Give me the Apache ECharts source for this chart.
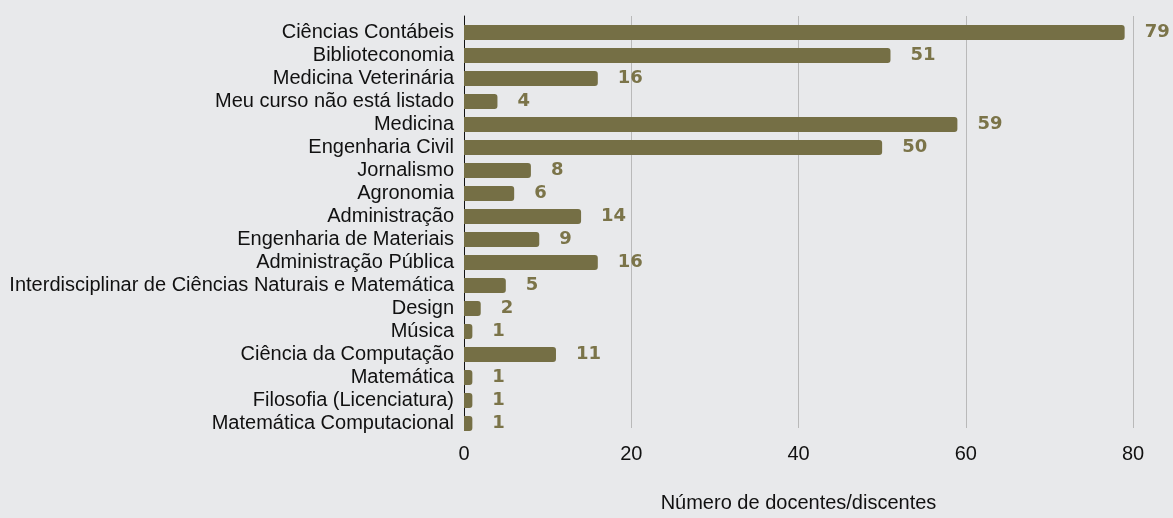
<!DOCTYPE html>
<html>
<head>
<meta charset="utf-8">
<script src="https://cdn.jsdelivr.net/npm/echarts@6/dist/echarts.min.js"></script>
<style>
  html, body { margin: 0; padding: 0; background: #e8e9eb; }
  #chart { width: 1173px; height: 518px; }
</style>
</head>
<body>
<div id="chart"></div>
<script>
var categories = [
  'Ciências Contábeis',
  'Biblioteconomia',
  'Medicina Veterinária',
  'Meu curso não está listado',
  'Medicina',
  'Engenharia Civil',
  'Jornalismo',
  'Agronomia',
  'Administração',
  'Engenharia de Materiais',
  'Administração Pública',
  'Interdisciplinar de Ciências Naturais e Matemática',
  'Design',
  'Música',
  'Ciência da Computação',
  'Matemática',
  'Filosofia (Licenciatura)',
  'Matemática Computacional'
]
var values = [79, 51, 16, 4, 59, 50, 8, 6, 14, 9, 16, 5, 2, 1, 11, 1, 1, 1]
var xTicks = [0, 20, 40, 60, 80]
var axisTitle = 'Número de docentes/discentes'

var myChart = echarts.init(document.getElementById('chart'))

var txt = {
  fontFamily: 'Liberation Sans',
  fontSize: 20,
  color: '#111'
}

// grid 0: frame, gridlines, x ticks and the axis line
// grid 1: the bars, inset a little from the frame
var option = {
  backgroundColor: '#e8e9eb',
  animation: false,
  grid: [
    { left: 464, right: 40, top: 16, height: 422 },
    { left: 464, right: 40, top: 21, height: 414 }
  ],
  xAxis: [
    {
      gridIndex: 0,
      type: 'value',
      min: xTicks[0],
      max: xTicks[xTicks.length - 1],
      interval: 20,
      name: axisTitle,
      nameLocation: 'middle',
      nameGap: 65,
      nameTextStyle: txt,
      axisLine: { show: false },
      axisTick: { show: false },
      axisLabel: Object.assign({ margin: 16 }, txt),
      splitLine: { lineStyle: { color: '#b9b9b9', width: 1 } }
    },
    {
      gridIndex: 1,
      type: 'value',
      min: xTicks[0],
      max: xTicks[xTicks.length - 1],
      show: false
    }
  ],
  yAxis: [
    {
      gridIndex: 0,
      type: 'category',
      data: categories,
      inverse: true,
      axisLine: { lineStyle: { color: '#111', width: 1 } },
      axisTick: { show: false },
      axisLabel: { show: false },
      splitLine: { show: false }
    },
    {
      gridIndex: 1,
      type: 'category',
      data: categories,
      inverse: true,
      axisLine: { show: false },
      axisTick: { show: false },
      axisLabel: Object.assign({ margin: 10, interval: 0 }, txt)
    }
  ],
  series: [
    {
      type: 'bar',
      xAxisIndex: 1,
      yAxisIndex: 1,
      data: values,
      barWidth: 15,
      itemStyle: {
        color: '#756f45',
        borderRadius: [0, 3, 3, 0]
      },
      label: {
        show: true,
        position: 'right',
        distance: 20,
        fontFamily: 'DejaVu Sans',
        fontWeight: 'bold',
        fontSize: 18,
        color: '#7b7449'
      }
    }
  ]
}

myChart.setOption(option)
</script>
</body>
</html>
